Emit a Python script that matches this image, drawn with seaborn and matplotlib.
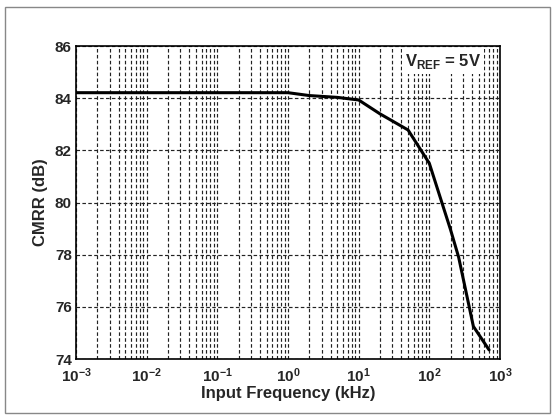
import matplotlib
matplotlib.use("Agg")
import matplotlib.pyplot as plt
import matplotlib.ticker as mticker
import pandas as pd
import seaborn as sns

freq_khz = [0.001, 1, 2, 5, 10, 20, 50, 100, 200, 260, 420, 700]
cmrr_db = [84.21, 84.21, 84.1, 84.03, 83.93, 83.4, 82.78, 81.5, 78.95, 77.9, 75.25, 74.35]
x_ticks = [1e-3, 1e-2, 1e-1, 1e0, 1e1, 1e2, 1e3]
x_labels = [r"$\mathbf{10^{-3}}$", r"$\mathbf{10^{-2}}$", r"$\mathbf{10^{-1}}$",
            r"$\mathbf{10^{0}}$", r"$\mathbf{10^{1}}$", r"$\mathbf{10^{2}}$", r"$\mathbf{10^{3}}$"]
y_ticks = [74, 76, 78, 80, 82, 84, 86]

df = pd.DataFrame({"freq": freq_khz, "cmrr": cmrr_db})

sns.set_style("white")
plt.rcParams["font.family"] = ["Liberation Sans", "DejaVu Sans"]
plt.rcParams["font.weight"] = "bold"
plt.rcParams["mathtext.fontset"] = "custom"
plt.rcParams["mathtext.bf"] = "Liberation Sans:bold"
plt.rcParams["mathtext.rm"] = "Liberation Sans:bold"

fig = plt.figure(figsize=(5.54, 4.15), dpi=100)
ax = fig.add_axes([76 / 554, 1 - 359 / 415, 424 / 554, 313 / 415])

sns.lineplot(data=df, x="freq", y="cmrr", ax=ax, color="black", linewidth=2.2)

ax.set_xscale("log")
ax.set_xlim(1e-3, 1e3)
ax.set_ylim(74, 86)
ax.set_xticks(x_ticks)
ax.set_xticklabels(x_labels)
ax.set_yticks(y_ticks)
ax.xaxis.set_minor_locator(mticker.LogLocator(base=10, subs=range(2, 10), numticks=20))
ax.xaxis.set_minor_formatter(mticker.NullFormatter())
ax.grid(True, which="both", axis="x", color="#222222", linestyle="--", linewidth=0.85, dashes=(3, 2))
ax.grid(True, which="major", axis="y", color="#222222", linestyle="--", linewidth=0.85, dashes=(3, 2))
ax.tick_params(axis="both", which="both", length=0, labelsize=11)
ax.tick_params(axis="x", pad=5)
ax.tick_params(axis="y", pad=3)
for lbl in ax.get_yticklabels():
    lbl.set_fontweight("bold")

for s in ax.spines.values():
    s.set_color("black")
    s.set_linewidth(1.2)

ax.set_xlabel("Input Frequency (kHz)", fontsize=12, fontweight="bold", labelpad=1)
ax.set_ylabel("CMRR (dB)", fontsize=12, fontweight="bold", labelpad=5)

ax.text(0.955, 0.95, r"V$_{\mathbf{REF}}$ = 5V", transform=ax.transAxes,
        ha="right", va="center", fontsize=12, fontweight="bold",
        bbox=dict(facecolor="white", edgecolor="none", pad=2))

# outer frame
fig.patches.append(plt.Rectangle((5 / 554, 2 / 415), 545 / 554, 406 / 415,
                                 transform=fig.transFigure, fill=False,
                                 edgecolor="#888888", linewidth=1))

fig.savefig("out.png", dpi=100)
